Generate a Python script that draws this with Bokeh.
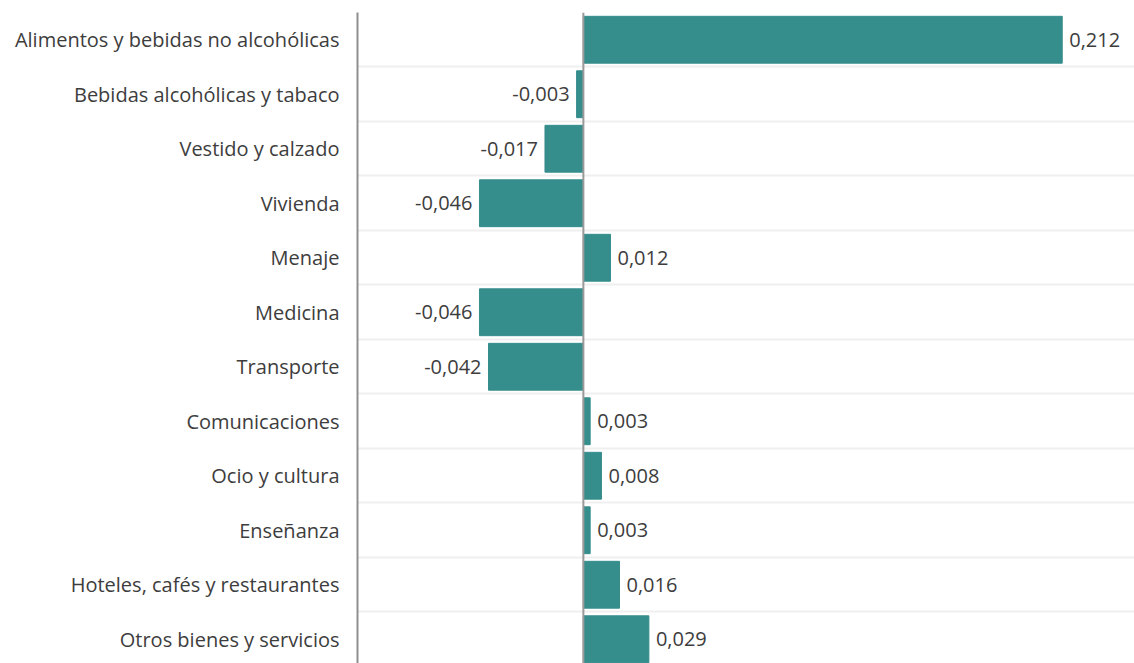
from bokeh.plotting import figure
from bokeh.models import ColumnDataSource, Range1d, FixedTicker, Span
from bokeh.core.properties import value
from bokeh.embed import file_html
from bokeh.resources import INLINE

categories = [
    "Alimentos y bebidas no alcohólicas",
    "Bebidas alcohólicas y tabaco",
    "Vestido y calzado",
    "Vivienda",
    "Menaje",
    "Medicina",
    "Transporte",
    "Comunicaciones",
    "Ocio y cultura",
    "Enseñanza",
    "Hoteles, cafés y restaurantes",
    "Otros bienes y servicios",
]
values = [0.212, -0.003, -0.017, -0.046, 0.012, -0.046, -0.042, 0.003, 0.008, 0.003, 0.016, 0.029]

FONT = "Open Sans"
TEXT_COLOR = "#3d3d3d"
BAR_COLOR = "#358d8c"

pos = list(range(len(categories)))
labels = [f"{v:.3f}".replace(".", ",") for v in values]
aligns = ["left" if v >= 0 else "right" for v in values]
offsets = [7 if v >= 0 else -7 for v in values]

src = ColumnDataSource(dict(y=pos, v=values, label=labels, align=aligns, off=offsets))

p = figure(
    width=1134, height=663,
    x_range=Range1d(-0.1, 0.244),
    y_range=Range1d(11.445, -0.5),
    x_axis_location=None,
    output_backend="svg", toolbar_location=None,
    min_border_left=357, min_border_top=12, min_border_bottom=0, min_border_right=0,
)
p.outline_line_color = None
p.background_fill_color = "white"
p.border_fill_color = "white"

p.xgrid.visible = False
p.ygrid.ticker = FixedTicker(ticks=[k - 0.5 for k in range(13)])
p.ygrid.grid_line_color = "#efefef"
p.ygrid.grid_line_width = 2

p.hbar(y="y", left=0, right="v", height=0.86, source=src,
       fill_color=BAR_COLOR, line_color=BAR_COLOR, line_width=1)

p.text(x="v", y="y", text="label", source=src, x_offset="off",
       text_align="align", text_baseline="middle",
       text_font=value(FONT), text_font_size="20px", text_color=TEXT_COLOR)

p.add_layout(Span(location=0, dimension="height", line_color="#9a9a9a", line_width=2))

yax = p.yaxis[0]
yax.ticker = FixedTicker(ticks=pos)
yax.major_label_overrides = {i: c for i, c in zip(pos, categories)}
yax.major_tick_line_color = None
yax.minor_tick_line_color = None
yax.axis_line_color = "#8f8f8f"
yax.axis_line_width = 2
yax.major_label_standoff = 12
yax.major_label_text_font = FONT
yax.major_label_text_font_size = "20px"
yax.major_label_text_color = TEXT_COLOR

open("out.html", "w").write(file_html(p, INLINE))
